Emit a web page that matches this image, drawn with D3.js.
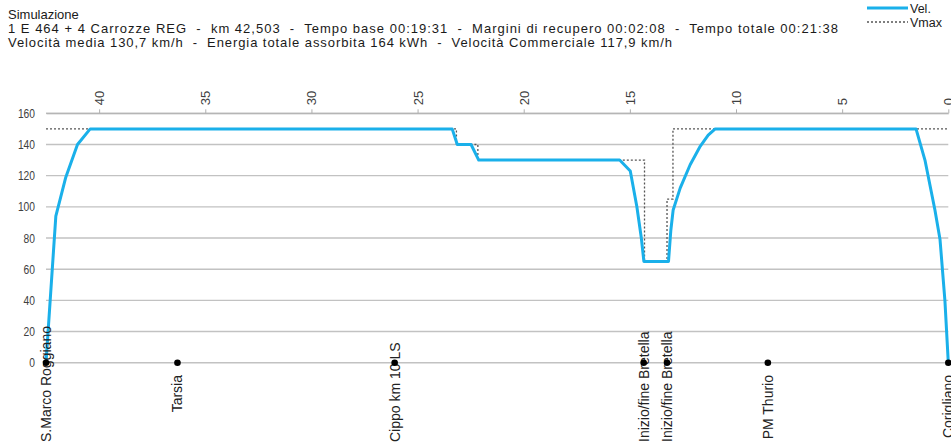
<!DOCTYPE html>
<html><head><meta charset="utf-8">
<script src="https://cdn.jsdelivr.net/npm/d3@7"></script>
<style>
html,body{margin:0;padding:0;background:#fff;}
svg{display:block;font-family:"Liberation Sans",Arial,sans-serif;}
text{white-space:pre;}
</style></head>
<body><svg id="c" width="951" height="445"></svg>
<script>
// ---- data ----
const titleLines = [
  "Simulazione",
  "1 E 464 + 4 Carrozze REG  -  km 42,503  -  Tempo base 00:19:31  -  Margini di recupero 00:02:08  -  Tempo totale 00:21:38",
  "Velocità media 130,7 km/h  -  Energia totale assorbita 164 kWh  -  Velocità Commerciale 117,9 km/h"
];
const legendLabels = ["Vel.", "Vmax"];
const kmTicks = [40, 35, 30, 25, 20, 15, 10, 5, 0];
const speedTicks = [0, 20, 40, 60, 80, 100, 120, 140, 160];
const totalKm = 42.503;
// velocity profile (km, km/h)
const velKm  = [42.503, 42.04, 41.57, 41.02, 40.42, 23.37, 23.13, 22.48, 22.12, 15.48, 14.98, 14.67, 14.46, 14.34, 13.18, 13.07, 12.96, 12.63, 12.16, 11.68, 11.31, 10.98, 1.52, 1.10, 0.63, 0.39, 0.16, 0];
const velVal = [0,      94,    119,   140,   150,   150,   140,   140,   130,   130,   123,   100,   80,    65,    65,    85,    98,    112,   127,   139,   146,   150,   150,  130,  98,   79,   40,   0];
// speed limit (step after each breakpoint)
const vmaxKm  = [42.503, 23.17, 22.16, 14.31, 13.25, 12.97, 0];
const vmaxVal = [150,    140,   130,   65,    105,   150,   150];
// stations
const stationNames = ["S.Marco Roggiano", "Tarsia", "Cippo km 10 LS", "Inizio/fine Bretella", "Inizio/fine Bretella", "PM Thurio", "Corigliano"];
const stationKm    = [42.503, 36.31, 26.08, 14.35, 13.25, 8.50, 0];

// ---- chart ----
const svg = d3.select("#c");
const x = d3.scaleLinear().domain([totalKm, 0]).range([46, 948.3]);
const y = d3.scaleLinear().domain([0, 160]).range([362.7, 113.3]);

// titles
const tl = svg.append("g").attr("fill", "#1a1a1a").style("font-size", "13px");
const tY = [19, 33, 46.5];
const tEnd = [null, 838, 672];
titleLines.forEach((t, i) => {
  const el = tl.append("text").attr("x", 8).attr("y", tY[i]).attr("xml:space", "preserve").text(t);
  if (tEnd[i]) el.attr("textLength", tEnd[i] - 8).attr("lengthAdjust", "spacing");
});

// gridlines
svg.append("g").selectAll("line").data(speedTicks).join("line")
  .attr("x1", 46).attr("x2", 948.3)
  .attr("y1", d => y(d)).attr("y2", d => y(d))
  .attr("stroke", "#c2c2c2").attr("stroke-width", 1.4);

// y labels
svg.append("g").selectAll("text").data(speedTicks).join("text")
  .attr("x", 35).attr("y", d => y(d)).attr("dy", "0.36em")
  .attr("text-anchor", "end").attr("fill", "#404040").style("font-size", "12.5px")
  .text(d => d)
  .each(function () {
    const w = this.getComputedTextLength();
    d3.select(this).attr("textLength", w * 0.82).attr("lengthAdjust", "spacingAndGlyphs");
  });

// top km axis
const ax = svg.append("g").attr("transform", `translate(0,${y(160)})`)
  .call(d3.axisTop(x).tickValues(kmTicks).tickSize(4).tickSizeOuter(0).tickFormat(d3.format("d")));
ax.select(".domain").attr("stroke", "#b0b0b0");
ax.selectAll(".tick line").attr("stroke", "#b0b0b0");
ax.selectAll(".tick text")
  .attr("fill", "#404040").style("font-size", "13px").style("font-family", "Liberation Sans, Arial, sans-serif")
  .attr("text-anchor", "start").attr("x", 0).attr("y", 0).attr("dy", "0.35em")
  .attr("transform", "translate(0,-8) rotate(-90)");

// vmax
const line = d3.line().x(d => x(d[0])).y(d => y(d[1]));
svg.append("path").datum(vmaxKm.map((k, i) => [k, vmaxVal[i]]))
  .attr("d", d3.line().x(d => x(d[0])).y(d => y(d[1])).curve(d3.curveStepAfter))
  .attr("fill", "none").attr("stroke", "#555").attr("stroke-width", 1.3).attr("stroke-dasharray", "2,2");

// velocity
svg.append("path").datum(velKm.map((k, i) => [k, velVal[i]]))
  .attr("d", line)
  .attr("fill", "none").attr("stroke", "#1ab0ea").attr("stroke-width", 3).attr("stroke-linejoin", "round");

// station labels
const sl = svg.append("g").attr("fill", "#222").style("font-size", "14px");
stationKm.forEach((k, i) => {
  const t = sl.append("text").attr("text-anchor", "start").attr("dy", "0.35em").text(stationNames[i]);
  const len = t.node().getComputedTextLength();
  const yb = Math.min(375 + len, 442);
  t.attr("transform", `translate(${x(k)},${yb}) rotate(-90)`);
});

// station dots
svg.append("g").selectAll("circle").data(stationKm).join("circle")
  .attr("cx", d => x(d)).attr("cy", y(0)).attr("r", 3.3).attr("fill", "#000");

// legend
const lg = svg.append("g").style("font-size", "12.5px").attr("fill", "#1a1a1a");
lg.append("line").attr("x1", 867).attr("x2", 908).attr("y1", 8).attr("y2", 8)
  .attr("stroke", "#1ab0ea").attr("stroke-width", 3);
lg.append("text").attr("x", 910).attr("y", 12.5).text(legendLabels[0]);
lg.append("line").attr("x1", 867).attr("x2", 908).attr("y1", 22).attr("y2", 22)
  .attr("stroke", "#555").attr("stroke-width", 1.3).attr("stroke-dasharray", "2,2");
lg.append("text").attr("x", 910).attr("y", 26.5).text(legendLabels[1]);
</script></body></html>
